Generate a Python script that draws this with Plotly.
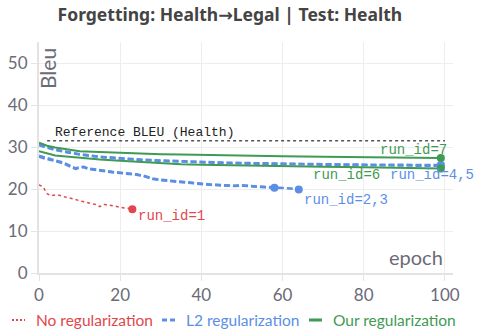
import plotly.graph_objects as go

# epochs / BLEU values
ep_none1 = list(range(0, 24))
bleu_none1 = [21.0, 20.5, 18.9, 18.4, 18.6, 18.5, 18.2, 18.0, 17.8, 17.5, 17.2, 17.0,
              16.8, 16.5, 16.3, 15.8, 16.3, 16.2, 16.0, 15.9, 15.7, 15.5, 15.4, 15.2]

ep_l2_2 = [0, 2, 4, 6, 8, 9, 10, 11, 12, 14, 16, 18, 20, 22, 24, 26, 28, 30, 32, 34,
           36, 38, 40, 42, 44, 46, 48, 50, 52, 54, 56, 58]
bleu_l2_2 = [27.7, 27.1, 26.7, 26.1, 25.2, 24.8, 25.1, 25.2, 24.8, 24.5, 24.2, 24.0,
             23.8, 23.6, 23.4, 23.0, 22.4, 22.1, 21.9, 21.7, 21.5, 21.3, 21.1, 21.0,
             20.9, 20.8, 20.7, 20.8, 20.6, 20.5, 20.4, 20.3]
ep_l2_3 = [0, 2, 4, 6, 8, 9, 10, 11, 12, 14, 16, 18, 20, 22, 24, 26, 28, 30, 32, 34,
           36, 38, 40, 42, 44, 46, 48, 50, 52, 54, 56, 58, 60, 62, 64]
bleu_l2_3 = [27.9, 27.3, 26.8, 26.3, 25.3, 24.9, 25.2, 25.3, 24.9, 24.6, 24.3, 24.1,
             23.9, 23.7, 23.5, 23.1, 22.5, 22.2, 22.0, 21.8, 21.6, 21.4, 21.2, 21.1,
             21.0, 20.9, 20.8, 20.9, 20.7, 20.6, 20.5, 20.4, 20.3, 20.1, 19.9]

ep_long = [0, 2, 4, 6, 8, 10, 15, 20, 25, 30, 35, 40, 45, 50, 60, 70, 80, 90, 99]
bleu_l2_4 = [30.6, 30.0, 29.5, 29.0, 28.6, 28.3, 27.7, 27.3, 27.0, 26.8, 26.6, 26.4,
             26.3, 26.2, 26.0, 25.9, 25.8, 25.7, 25.7]
bleu_l2_5 = [30.4, 29.8, 29.3, 28.9, 28.5, 28.2, 27.6, 27.2, 26.9, 26.7, 26.5, 26.3,
             26.2, 26.1, 25.9, 25.8, 25.7, 25.6, 25.5]
bleu_our_6 = [29.0, 28.5, 28.0, 27.8, 27.6, 27.4, 27.0, 26.7, 26.4, 26.1, 25.9, 25.8,
              25.7, 25.6, 25.4, 25.3, 25.2, 25.0, 24.9]
bleu_our_7 = [31.0, 30.3, 29.9, 29.6, 29.3, 29.0, 28.8, 28.6, 28.4, 28.3, 28.2, 28.1,
              28.0, 27.9, 27.8, 27.7, 27.6, 27.5, 27.4]

ref_bleu = 31.5
ref_x = [2, 100]

# run labels: text, x, y
run_labels = [
    ("run_id=1", 23.9, 13.6),
    ("run_id=2,3", 64.8, 17.5),
    ("run_id=4,5", 86.0, 23.4),
    ("run_id=6", 66.9, 23.4),
    ("run_id=7", 83.5, 29.4),
]

legend_names = ["No regularization", "L2 regularization", "Our regularization"]

RED = "#e0474c"
BLUE = "#5b8fe6"
GREEN = "#3f9a53"
GREY = "#6b6b76"
MONO = "Liberation Mono, DejaVu Sans Mono, monospace"
label_colors = [RED, BLUE, BLUE, GREEN, GREEN]

W, H = 479, 333
ML, MR, MT, MB = 39, 26, 42, 60
PW, PH = W - ML - MR, H - MT - MB


def px_x(p):
    return (p - ML) / PW


def px_y(p):
    return (H - MB - p) / PH


fig = go.Figure()

fig.add_trace(go.Scatter(x=ref_x, y=[ref_bleu, ref_bleu], mode="lines",
                         line=dict(color="#555555", width=1.5, dash="dot"),
                         hoverinfo="skip"))


def add_run(x, y, color, dash, width):
    fig.add_trace(go.Scatter(x=x, y=y, mode="lines",
                             line=dict(color=color, width=width, dash=dash)))
    fig.add_trace(go.Scatter(x=[x[-1]], y=[y[-1]], mode="markers",
                             marker=dict(color=color, size=8)))


BDASH = "6px,3px"
add_run(ep_none1, bleu_none1, RED, "dot", 1.5)
add_run(ep_l2_2, bleu_l2_2, BLUE, BDASH, 2.5)
add_run(ep_l2_3, bleu_l2_3, BLUE, BDASH, 2.5)
add_run(ep_long, bleu_l2_4, BLUE, BDASH, 2.5)
add_run(ep_long, bleu_l2_5, BLUE, BDASH, 2.5)
add_run(ep_long, bleu_our_6, GREEN, "solid", 2)
add_run(ep_long, bleu_our_7, GREEN, "solid", 2)

ann = [
    dict(x=3.4, y=33.5, text="Reference BLEU (Health)", xanchor="left", yanchor="middle",
         font=dict(family=MONO, size=13, color="#222222")),
    dict(x=0, y=55, text="Bleu", textangle=-90, xanchor="left", yanchor="top", xshift=-6,
         yshift=-4, font=dict(family="Lato", size=21, color=GREY)),
    dict(x=100, y=0.4, text="epoch", xanchor="right", yanchor="bottom",
         font=dict(family="Lato", size=20, color=GREY)),
]
for (t, lx, ly), c in zip(run_labels, label_colors):
    ann.append(dict(x=lx, y=ly, text=t, xanchor="left", yanchor="middle",
                    font=dict(family=MONO, size=14, color=c)))
for a in ann:
    a.update(xref="x", yref="y", showarrow=False)

# hand-drawn legend row under the axis
shapes = []
leg_y = px_y(320)
leg_items = [(12, 25, RED, "2px,2px", 2), (162, 175, BLUE, "5px,3px", 3),
             (309, 322, GREEN, "solid", 3)]
for name, (x0, x1, c, d, w) in zip(legend_names, leg_items):
    shapes.append(dict(type="line", xref="paper", yref="paper", x0=px_x(x0), x1=px_x(x1),
                       y0=leg_y, y1=leg_y, line=dict(color=c, width=w, dash=d)))
    ann.append(dict(xref="paper", yref="paper", x=px_x(x1 + 9), y=leg_y, text=name,
                    xanchor="left", yanchor="middle", showarrow=False,
                    font=dict(family="Lato", size=15.5, color=c)))

axis_style = dict(showgrid=True, gridcolor="#ededed", zeroline=False, showline=True,
                  linecolor="#e3e3e3", linewidth=2, ticks="outside", ticklen=6,
                  tickcolor="#e3e3e3", tickfont=dict(family="Lato", size=17, color=GREY),
                  automargin=False)

title_text = ("<b>Forgetting: Health<span style='font-family:DejaVu Sans'>→</span>"
              "Legal | Test: Health</b>")

fig.update_layout(
    width=W, height=H,
    margin=dict(l=ML, r=MR, t=MT, b=MB),
    paper_bgcolor="white", plot_bgcolor="white",
    showlegend=False,
    font=dict(family="Lato, sans-serif", color=GREY),
    title=dict(text=title_text, x=0.48, xanchor="center",
               y=0.975, yanchor="top",
               font=dict(family="Noto Sans, sans-serif", size=17.5, color="#444444")),
    annotations=ann,
    shapes=shapes,
    xaxis=dict(range=[0, 102], tickvals=[0, 20, 40, 60, 80, 100], **axis_style),
    yaxis=dict(range=[0, 55], tickvals=[0, 10, 20, 30, 40, 50], **axis_style),
)

# drop the page's default body margin so the figure sits at the window's corner
fig.write_html("out.html", config={"displayModeBar": False},
               post_script="document.body.style.margin='0';")
